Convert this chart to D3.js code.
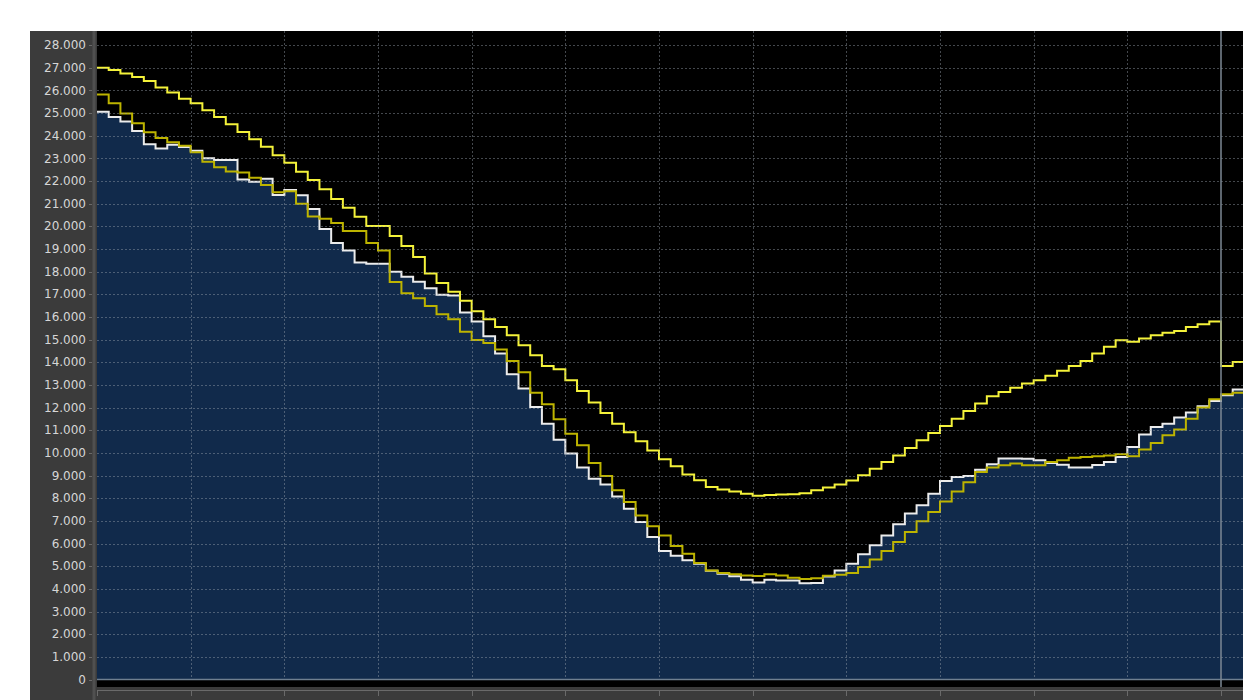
<!DOCTYPE html>
<html><head><meta charset="utf-8">
<script src="https://cdn.jsdelivr.net/npm/d3@7/dist/d3.min.js"></script>
<style>html,body{margin:0;padding:0;background:#fff;}svg{display:block}</style>
</head><body><svg id="c" width="1243" height="700"></svg>
<script>
// quarter-hour steps (index 0..97), values
const upperSeries = [27000,26900,26740,26590,26410,26130,25900,25630,25430,25120,24820,24500,24160,23840,23510,23140,22800,22410,22040,21630,21200,20820,20420,20010,20010,19570,19130,18650,17920,17500,17110,16710,16250,15900,15560,15190,14750,14310,13840,13690,13210,12730,12220,11760,11290,10910,10510,10110,9720,9410,9050,8790,8490,8390,8300,8200,8110,8140,8160,8170,8220,8350,8470,8600,8780,9010,9300,9600,9890,10220,10560,10880,11190,11510,11850,12180,12500,12690,12880,13060,13210,13400,13620,13840,14060,14390,14680,14970,14900,15050,15190,15300,15380,15560,15680,15800,13840,14010];
const middleSeries = [25820,25430,24980,24550,24150,23900,23710,23550,23270,22850,22600,22420,22370,22140,21820,21500,21550,21000,20430,20330,20150,19790,19790,19260,18930,17540,17040,16820,16480,16120,15900,15350,14980,14850,14560,14060,13560,12650,12150,11480,10850,10340,9550,8980,8350,7830,7240,6760,6360,5890,5550,5140,4810,4700,4640,4590,4570,4650,4590,4490,4430,4470,4580,4620,4700,4960,5300,5670,6070,6510,6980,7390,7860,8300,8710,9160,9350,9450,9530,9450,9450,9600,9670,9790,9820,9850,9880,9940,9850,10150,10440,10780,11030,11510,12000,12370,12590,12650];
const actualSeries = [25050,24820,24620,24210,23620,23430,23600,23500,23330,23000,22930,22930,22070,21970,22100,21380,21600,21370,20760,19880,19260,18930,18400,18350,18350,17990,17770,17550,17270,16980,16950,16190,15800,15150,14390,13470,12840,12030,11290,10580,9970,9350,8860,8610,8080,7540,6950,6290,5670,5460,5260,5110,4800,4670,4560,4400,4280,4400,4370,4370,4250,4260,4550,4810,5110,5530,5920,6360,6850,7320,7690,8200,8760,8940,8980,9260,9500,9750,9750,9740,9670,9550,9480,9350,9350,9470,9600,9820,10260,10810,11140,11290,11560,11780,12060,12290,12540,12800];
const yTickValues = d3.range(0, 28001, 1000);
const xGridSteps = d3.range(0, 97, 8);
const nowStep = 96;

const svg = d3.select('#c');
const L = 97, R = 1243, T = 31, B = 679.5;
const x = d3.scaleLinear().domain([0, 96]).range([L, 1221]);
const y = d3.scaleLinear().domain([0, 28000]).range([B, 45]);
const loc = d3.formatLocale({decimal: ',', thousands: '.', grouping: [3], currency: ['', '']});
const fmt = loc.format(',d');

// panels
svg.append('rect').attr('x', 30).attr('y', T).attr('width', R - 30).attr('height', 700 - T).attr('fill', '#3b3b3b');
svg.append('rect').attr('x', L).attr('y', T).attr('width', R - L).attr('height', 687 - T).attr('fill', '#000');
svg.append('rect').attr('x', 92.5).attr('y', T).attr('width', 3).attr('height', 700 - T).attr('fill', '#505050');

svg.append('defs').append('clipPath').attr('id', 'clip')
  .append('rect').attr('x', L).attr('y', T).attr('width', R - L).attr('height', B - T);

const toPts = arr => arr.map((v, i) => [i, v]).concat([[arr.length, arr[arr.length - 1]]]);
const g = svg.append('g').attr('clip-path', 'url(#clip)');

// area under actual
g.append('path').datum(toPts(actualSeries))
  .attr('fill', '#112a4b')
  .attr('d', d3.area().curve(d3.curveStepAfter).x(d => x(d[0])).y0(y(0)).y1(d => y(d[1])));

// grid
const grid = svg.append('g').attr('clip-path', 'url(#clip)');
grid.selectAll('line.h').data(yTickValues.filter(v => v > 0)).enter().append('line')
  .attr('x1', L).attr('x2', R).attr('y1', d => Math.round(y(d)) + 0.5).attr('y2', d => Math.round(y(d)) + 0.5)
  .attr('stroke', 'rgba(150,160,170,0.45)').attr('stroke-width', 1).attr('stroke-dasharray', '2,2');
grid.selectAll('line.v').data(xGridSteps.filter(s => s > 0 && s < nowStep)).enter().append('line')
  .attr('x1', d => Math.round(x(d)) + 0.5).attr('x2', d => Math.round(x(d)) + 0.5).attr('y1', T).attr('y2', B)
  .attr('stroke', 'rgba(150,160,170,0.45)').attr('stroke-width', 1).attr('stroke-dasharray', '2,2');

const line = d3.line().curve(d3.curveStepAfter).x(d => x(d[0])).y(d => y(d[1]));
g.append('path').datum(toPts(actualSeries)).attr('fill', 'none').attr('stroke', '#ececec').attr('stroke-width', 2).attr('d', line);
g.append('path').datum(toPts(middleSeries)).attr('fill', 'none').attr('stroke', '#bdb400').attr('stroke-width', 2).attr('d', line);
g.append('path').datum(toPts(upperSeries)).attr('fill', 'none').attr('stroke', '#f4f23a').attr('stroke-width', 2).attr('d', line);

// baseline
svg.append('line').attr('x1', L).attr('x2', R).attr('y1', B).attr('y2', B).attr('stroke', '#6f7f90').attr('stroke-width', 1.5);
// now marker
svg.append('line').attr('x1', x(nowStep)).attr('x2', x(nowStep)).attr('y1', T).attr('y2', 687).attr('stroke', '#7d8894').attr('stroke-width', 1.5);

// y axis
const ya = svg.append('g');
ya.selectAll('text').data(yTickValues).enter().append('text')
  .attr('x', 86).attr('y', d => y(d)).attr('dy', '0.35em').attr('text-anchor', 'end')
  .attr('font-family', 'DejaVu Sans, Verdana, sans-serif').attr('font-size', 12).attr('fill', '#d6d6d6')
  .text(d => fmt(d));
ya.selectAll('line').data(yTickValues).enter().append('line')
  .attr('x1', 89).attr('x2', 92).attr('y1', d => Math.round(y(d)) + 0.5).attr('y2', d => Math.round(y(d)) + 0.5)
  .attr('stroke', '#6a6a6a');

// x axis strip
svg.append('line').attr('x1', L).attr('x2', R).attr('y1', 690.5).attr('y2', 690.5).attr('stroke', '#6a6a6a');
svg.selectAll('line.xt').data(xGridSteps).enter().append('line')
  .attr('x1', d => Math.round(x(d)) + 0.5).attr('x2', d => Math.round(x(d)) + 0.5).attr('y1', 691).attr('y2', 696)
  .attr('stroke', '#6a6a6a');
</script></body></html>
